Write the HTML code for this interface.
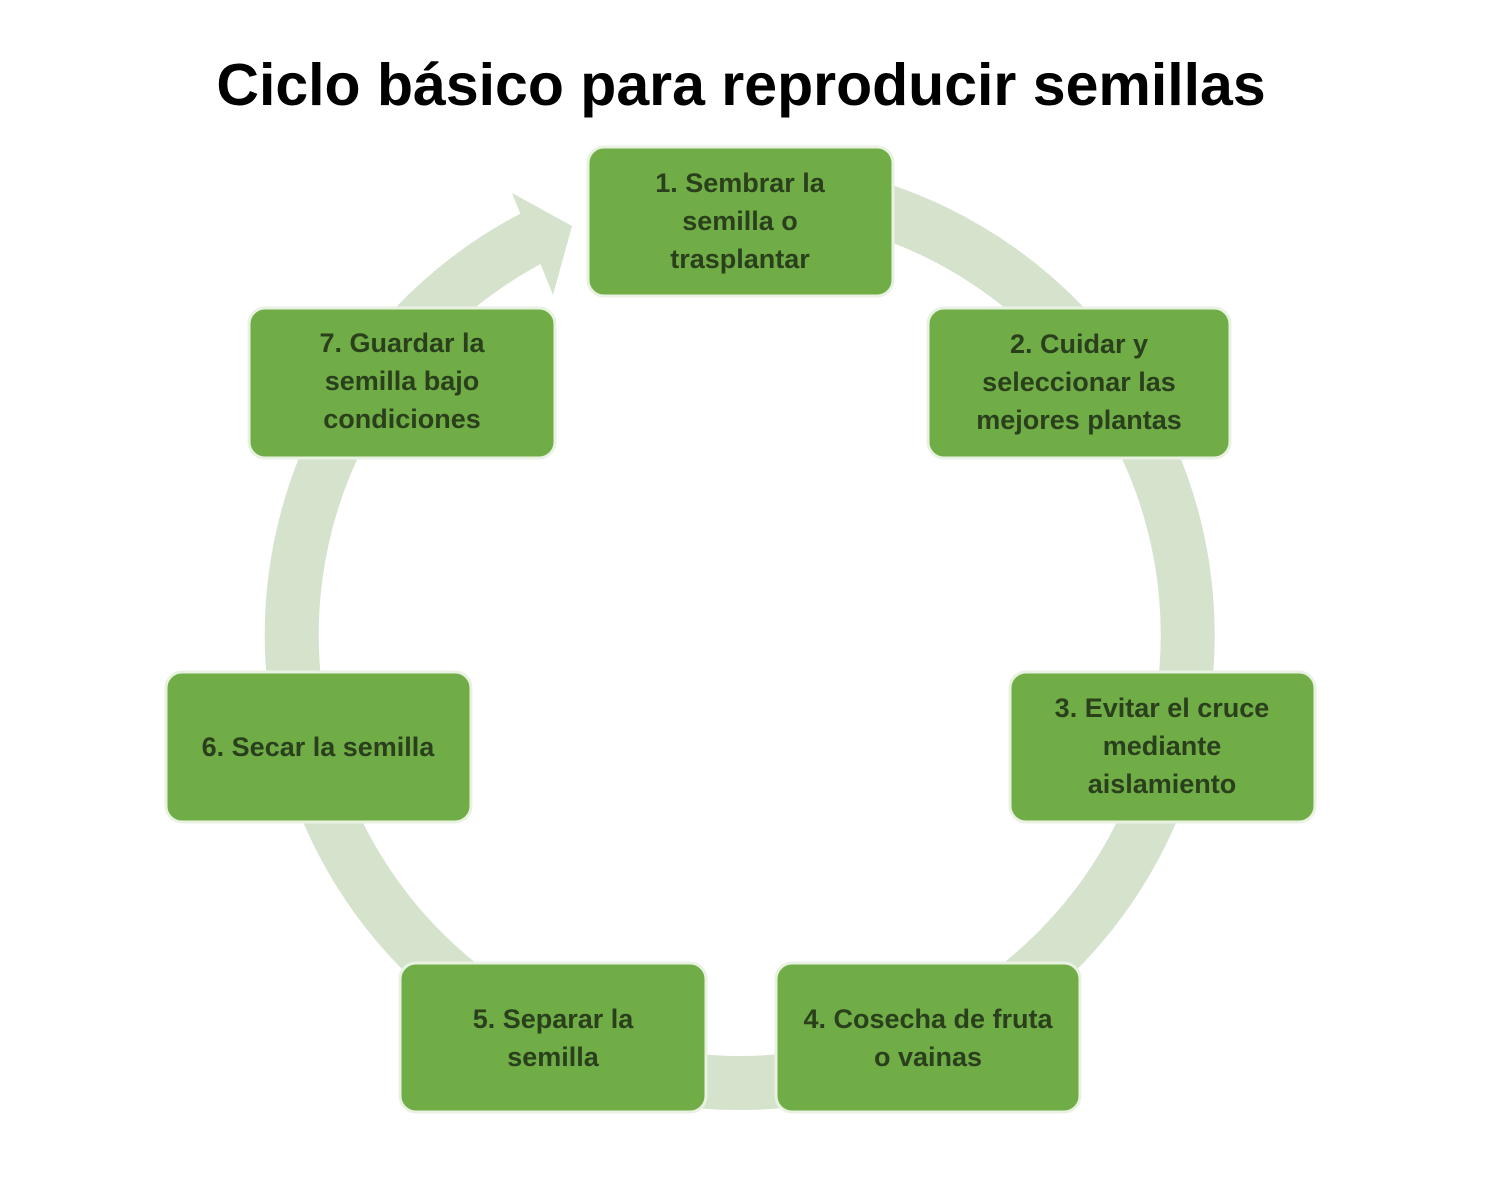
<!DOCTYPE html>
<html><head><meta charset="utf-8"><style>
html,body{margin:0;padding:0;background:#fff;}
svg{display:block;}
text{font-family:"Liberation Sans",sans-serif;}
.b{fill:#70ad47;stroke:#e9f2e2;stroke-width:3;}
.t{font-size:27px;font-weight:bold;fill:#2a3f1c;text-anchor:middle;}
</style></head><body>
<svg width="1500" height="1193" viewBox="0 0 1500 1193" xmlns="http://www.w3.org/2000/svg">
<rect width="1500" height="1193" fill="#fff"/>
<text x="741" y="105" font-size="59" font-weight="bold" text-anchor="middle" fill="#000">Ciclo básico para reproducir semillas</text>
<path d="M740 187 A448 448 0 1 1 536 236" fill="none" stroke="#d5e2cc" stroke-width="54"/>
<polygon points="512,193 572,226 553,295" fill="#d5e2cc"/>
<rect class="b" x="588" y="147" width="305" height="149" rx="16"/>
<text class="t" x="740" y="192">1. Sembrar la</text><text class="t" x="740" y="230">semilla o</text><text class="t" x="740" y="268">trasplantar</text>
<rect class="b" x="928" y="308" width="302" height="150" rx="16"/>
<text class="t" x="1079" y="353">2. Cuidar y</text><text class="t" x="1079" y="391">seleccionar las</text><text class="t" x="1079" y="429">mejores plantas</text>
<rect class="b" x="1010" y="672" width="305" height="150" rx="16"/>
<text class="t" x="1162" y="717">3. Evitar el cruce</text><text class="t" x="1162" y="755">mediante</text><text class="t" x="1162" y="793">aislamiento</text>
<rect class="b" x="776" y="963" width="304" height="149" rx="16"/>
<text class="t" x="928" y="1028">4. Cosecha de fruta</text><text class="t" x="928" y="1066">o vainas</text>
<rect class="b" x="400" y="963" width="306" height="149" rx="16"/>
<text class="t" x="553" y="1028">5. Separar la</text><text class="t" x="553" y="1066">semilla</text>
<rect class="b" x="166" y="672" width="305" height="150" rx="16"/>
<text class="t" x="318" y="756">6. Secar la semilla</text>
<rect class="b" x="249" y="308" width="306" height="150" rx="16"/>
<text class="t" x="402" y="352">7. Guardar la</text><text class="t" x="402" y="390">semilla bajo</text><text class="t" x="402" y="428">condiciones</text>
</svg>
</body></html>
